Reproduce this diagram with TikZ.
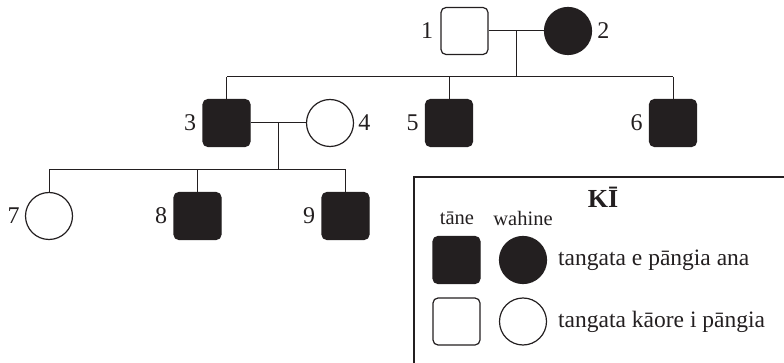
\documentclass[tikz,border=0pt]{standalone}
\usepackage{fontspec}
\setmainfont{Liberation Serif}
\usetikzlibrary{calc}
\definecolor{ink}{HTML}{231F20}
\begin{document}
\begin{tikzpicture}[x=1pt,y=-1pt,
  male/.style={draw=ink,line width=1.2pt,rounded corners=5pt,minimum size=47pt,inner sep=0pt,rectangle},
  female/.style={draw=ink,line width=1.2pt,circle,minimum size=47pt,inner sep=0pt},
  affected/.style={fill=ink},
  link/.style={draw=ink,line width=1pt},
  num/.style={font=\fontsize{24}{24}\selectfont,inner sep=0pt,text=ink},
  keytext/.style={font=\fontsize{23.5}{24}\selectfont,inner sep=0pt,text=ink,anchor=west},
  colhead/.style={font=\fontsize{20.5}{22}\selectfont,inner sep=0pt,text=ink}
]
\useasboundingbox (0,0) rectangle (784,363);
\clip (0,0) rectangle (784,363);

% generation I
\node[male] (p1) at (464.5,31) {};
\node[female,affected] (p2) at (568,31) {};
% generation II
\node[male,affected] (p3) at (226.5,123) {};
\node[female] (p4) at (330,123) {};
\node[male,affected] (p5) at (449,123) {};
\node[male,affected] (p6) at (673,123) {};
% generation III
\node[female] (p7) at (49,216) {};
\node[male,affected] (p8) at (197.5,216) {};
\node[male,affected] (p9) at (345.5,216) {};

% individual numbers
\node[num,anchor=east] (l1) at ($(p1.west)+(-7,0)$) {1};
\node[num,anchor=west] (l2) at ($(p2.east)+(5,0)$) {2};
\node[num,anchor=east] (l3) at ($(p3.west)+(-6,0)$) {3};
\node[num,anchor=west] (l4) at ($(p4.east)+(4,0)$) {4};
\node[num,anchor=east] (l5) at ($(p5.west)+(-6,0)$) {5};
\node[num,anchor=east] (l6) at ($(p6.west)+(-6,0)$) {6};
\node[num,anchor=east] (l7) at ($(p7.west)+(-5,0)$) {7};
\node[num,anchor=east] (l8) at ($(p8.west)+(-6,0)$) {8};
\node[num,anchor=east] (l9) at ($(p9.west)+(-6,0)$) {9};

% couple 1 x 2 and their children
\draw[link] (p1.east) -- (p2.west);
\coordinate (m12) at ($(p1.east)!0.5!(p2.west)$);
\coordinate (s12) at ($(m12)+(0,46)$);
\draw[link] (m12) -- (s12);
\draw[link] (p3.north |- s12) -- (p6.north |- s12);
\draw[link] (p3.north) -- (p3.north |- s12);
\draw[link] (p5.north) -- (p5.north |- s12);
\draw[link] (p6.north) -- (p6.north |- s12);

% couple 3 x 4 and their children
\draw[link] (p3.east) -- (p4.west);
\coordinate (m34) at ($(p3.east)!0.5!(p4.west)$);
\coordinate (s34) at ($(m34)+(0,47)$);
\draw[link] (m34) -- (s34);
\draw[link] (p7.north |- s34) -- (p9.north |- s34);
\draw[link] (p7.north) -- (p7.north |- s34);
\draw[link] (p8.north) -- (p8.north |- s34);
\draw[link] (p9.north) -- (p9.north |- s34);

% key
\draw[draw=ink,line width=1.2pt] (414,177) rectangle (800,380);
\node[font=\bfseries\fontsize{26}{26}\selectfont,inner sep=0pt,text=ink] (keytitle) at (603,197) {KĪ};
\node[colhead] (hmale) at (457,218) {tāne};
\node[colhead] (hfemale) at (523,218) {wahine};
\node[male,affected] (kma) at (456.5,260) {};
\node[female,affected] (kfa) at (523,260) {};
\node[keytext] (ta) at (558,260) {tangata e pāngia ana};
\node[male] (kmu) at (456.5,321.5) {};
\node[female] (kfu) at (523,321.5) {};
\node[keytext] (tu) at (558,321.5) {tangata kāore i pāngia};
\end{tikzpicture}
\end{document}
